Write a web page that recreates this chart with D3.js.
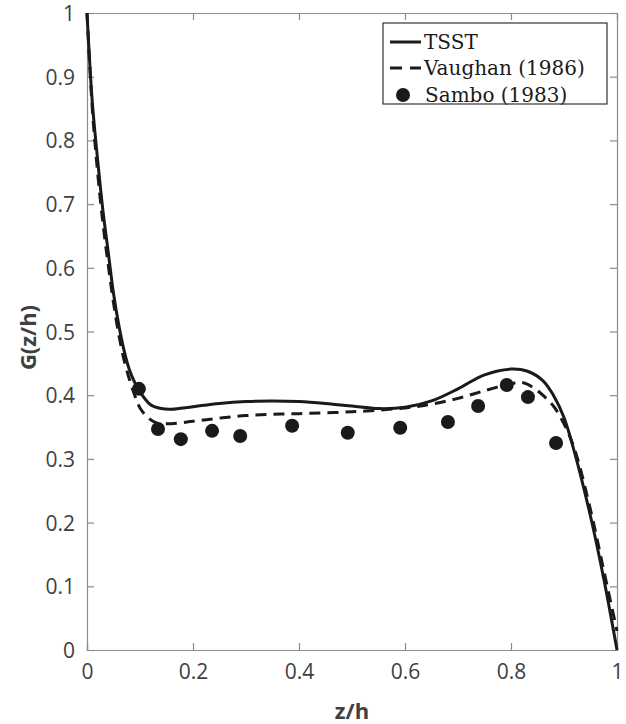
<!DOCTYPE html>
<html>
<head>
<meta charset="utf-8">
<script src="https://cdn.jsdelivr.net/npm/d3@7"></script>
<style>
  body { margin: 0; background: #fff; }
  svg { display: block; }
</style>
</head>
<body>
<div id="chart"></div>
<script>
// data
var tsstX = [0, 0.01, 0.02, 0.03, 0.04, 0.05, 0.06, 0.07, 0.08, 0.09, 0.10, 0.12, 0.14, 0.16, 0.20, 0.25, 0.30, 0.35, 0.40, 0.45, 0.50, 0.55, 0.60, 0.65, 0.70, 0.75, 0.80, 0.83, 0.86, 0.88, 0.90, 0.92, 0.95, 0.975, 1.0];
var tsstY = [1.0, 0.86, 0.77, 0.69, 0.625, 0.56, 0.51, 0.47, 0.44, 0.42, 0.405, 0.385, 0.379, 0.378, 0.382, 0.387, 0.39, 0.391, 0.39, 0.387, 0.383, 0.379, 0.381, 0.391, 0.41, 0.432, 0.441, 0.438, 0.423, 0.40, 0.365, 0.31, 0.21, 0.112, 0.0];

var vaughanX = [0, 0.01, 0.02, 0.03, 0.04, 0.05, 0.06, 0.07, 0.08, 0.09, 0.10, 0.115, 0.13, 0.15, 0.20, 0.25, 0.30, 0.35, 0.40, 0.50, 0.60, 0.65, 0.70, 0.75, 0.80, 0.82, 0.84, 0.86, 0.88, 0.90, 0.92, 0.95, 0.975, 1.0];
var vaughanY = [1.0, 0.85, 0.75, 0.67, 0.605, 0.545, 0.495, 0.455, 0.425, 0.40, 0.38, 0.365, 0.357, 0.355, 0.359, 0.364, 0.368, 0.37, 0.371, 0.374, 0.38, 0.386, 0.395, 0.407, 0.418, 0.42, 0.413, 0.40, 0.383, 0.355, 0.315, 0.22, 0.125, 0.03];

var samboX = [0.098, 0.134, 0.177, 0.236, 0.289, 0.387, 0.492, 0.591, 0.681, 0.738, 0.792, 0.832, 0.885];
var samboY = [0.41, 0.347, 0.331, 0.344, 0.336, 0.352, 0.341, 0.349, 0.358, 0.383, 0.416, 0.397, 0.325];

var xTicks = [0, 0.2, 0.4, 0.6, 0.8, 1];
var yTicks = [0, 0.1, 0.2, 0.3, 0.4, 0.5, 0.6, 0.7, 0.8, 0.9, 1];
var legendLabels = ["TSST", "Vaughan (1986)", "Sambo (1983)"];

var W = 626, H = 724;
var margin = {top: 13, left: 87, right: 9, bottom: 74};
var width = W - margin.left - margin.right,
    height = H - margin.top - margin.bottom;

var svg = d3.select("#chart").append("svg")
    .attr("width", W)
    .attr("height", H);

var g = svg.append("g")
    .attr("transform", "translate(" + margin.left + "," + margin.top + ")");

var x = d3.scaleLinear().domain([0, 1]).range([0, width]);
var y = d3.scaleLinear().domain([0, 1]).range([height, 0]);

var fmt = function(d) { return d3.format("")(+d.toFixed(1)); };
var axisColor = "#8c8c8c", labelColor = "#404040";

// axes, ticks pointing inward
var xAxis = g.append("g").attr("transform", "translate(0," + height + ")")
    .call(d3.axisBottom(x).tickValues(xTicks).tickSize(-7).tickPadding(14).tickFormat(fmt));
var yAxis = g.append("g")
    .call(d3.axisLeft(y).tickValues(yTicks).tickSize(-7).tickPadding(12).tickFormat(fmt));
var xTop = g.append("g")
    .call(d3.axisTop(x).tickValues(xTicks).tickSize(-7).tickFormat(""));
var yRight = g.append("g").attr("transform", "translate(" + width + ",0)")
    .call(d3.axisRight(y).tickValues(yTicks).tickSize(-7).tickFormat(""));

[xAxis, yAxis, xTop, yRight].forEach(function(a) {
  a.select(".domain").attr("stroke", axisColor).attr("stroke-width", 1.2);
  a.selectAll(".tick line").attr("stroke", axisColor).attr("stroke-width", 1.2);
  a.selectAll(".tick text")
    .attr("fill", labelColor)
    .style("font-family", "'Open Sans', sans-serif")
    .style("font-size", "21px");
});
xAxis.selectAll(".tick text").attr("dy", "0.71em");
yAxis.selectAll(".tick text").attr("dy", "0.36em");

// curves
var line = d3.line()
    .x(function(d) { return x(d[0]); })
    .y(function(d) { return y(d[1]); })
    .curve(d3.curveCatmullRom.alpha(0.5));

var tsst = d3.zip(tsstX, tsstY);
var vaughan = d3.zip(vaughanX, vaughanY);
var sambo = d3.zip(samboX, samboY);

g.append("path")
    .datum(vaughan)
    .attr("fill", "none")
    .attr("stroke", "#1a1a1a")
    .attr("stroke-width", 3)
    .attr("stroke-dasharray", "11,7")
    .attr("d", line);

g.append("path")
    .datum(tsst)
    .attr("fill", "none")
    .attr("stroke", "#1a1a1a")
    .attr("stroke-width", 3)
    .attr("d", line);

g.selectAll("circle.sambo")
    .data(sambo)
    .join("circle")
    .attr("class", "sambo")
    .attr("cx", function(d) { return x(d[0]); })
    .attr("cy", function(d) { return y(d[1]); })
    .attr("r", 7)
    .attr("fill", "#1a1a1a");

// axis titles
svg.append("text")
    .attr("x", margin.left + width / 2)
    .attr("y", 719)
    .attr("text-anchor", "middle")
    .attr("fill", labelColor)
    .style("font-family", "'Open Sans', sans-serif")
    .style("font-weight", "bold")
    .style("font-size", "22px")
    .text("z/h");

svg.append("text")
    .attr("transform", "translate(36," + (margin.top + height / 2 + 6) + ") rotate(-90)")
    .attr("text-anchor", "middle")
    .attr("fill", labelColor)
    .style("font-family", "'Open Sans', sans-serif")
    .style("font-weight", "bold")
    .style("font-size", "22px")
    .text("G(z/h)");

// legend
var lg = svg.append("g").attr("transform", "translate(383,23)");
lg.append("rect")
    .attr("width", 224).attr("height", 81)
    .attr("fill", "#fff")
    .attr("stroke", "#333").attr("stroke-width", 1.2);

var rows = [19, 45, 72];
lg.append("line").attr("x1", 7).attr("x2", 38).attr("y1", rows[0]).attr("y2", rows[0])
    .attr("stroke", "#1a1a1a").attr("stroke-width", 3);
lg.append("line").attr("x1", 7).attr("x2", 38).attr("y1", rows[1]).attr("y2", rows[1])
    .attr("stroke", "#1a1a1a").attr("stroke-width", 3).attr("stroke-dasharray", "12,8");
lg.append("circle").attr("cx", 20).attr("cy", rows[2]).attr("r", 7).attr("fill", "#1a1a1a");

lg.selectAll("text.leg")
    .data(legendLabels)
    .join("text")
    .attr("class", "leg")
    .attr("x", function(d, i) { return i == 2 ? 42 : 41; })
    .attr("y", function(d, i) { return rows[i] + 7; })
    .attr("fill", "#1a1a1a")
    .style("font-family", "'DejaVu Serif', serif")
    .style("font-size", "20px")
    .text(function(d) { return d; });
</script>
</body>
</html>
